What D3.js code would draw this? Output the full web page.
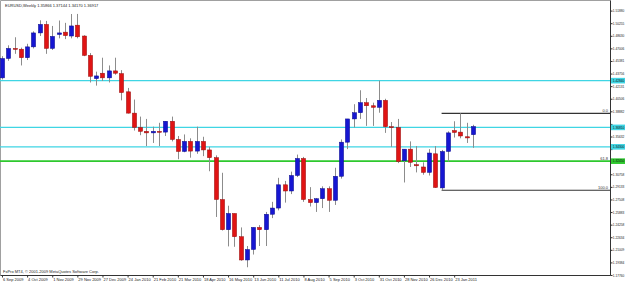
<!DOCTYPE html>
<html><head><meta charset="utf-8">
<script src="https://cdn.jsdelivr.net/npm/d3@7"></script>
<style>html,body{margin:0;padding:0;background:#fff;overflow:hidden}svg{display:block}</style>
</head><body><svg id="c" width="625" height="282"></svg>
<script>
const weeks = [
"2009-09-06","2009-09-13","2009-09-20","2009-09-27","2009-10-04","2009-10-11","2009-10-18","2009-10-25","2009-11-01","2009-11-08","2009-11-15","2009-11-22","2009-11-29","2009-12-06","2009-12-13","2009-12-20","2009-12-27",
"2010-01-03","2010-01-10","2010-01-17","2010-01-24","2010-01-31","2010-02-07","2010-02-14","2010-02-21","2010-02-28","2010-03-07","2010-03-14","2010-03-21","2010-03-28","2010-04-04","2010-04-11","2010-04-18","2010-04-25","2010-05-02","2010-05-09","2010-05-16","2010-05-23","2010-05-30","2010-06-06","2010-06-13","2010-06-20","2010-06-27","2010-07-04","2010-07-11","2010-07-18","2010-07-25","2010-08-01","2010-08-08","2010-08-15","2010-08-22","2010-08-29","2010-09-05","2010-09-12","2010-09-19","2010-09-26","2010-10-03","2010-10-10","2010-10-17","2010-10-24","2010-10-31","2010-11-07","2010-11-14","2010-11-21","2010-11-28","2010-12-05","2010-12-12","2010-12-19","2010-12-26",
"2011-01-02","2011-01-09","2011-01-16","2011-01-23","2011-01-30","2011-02-06","2011-02-13"];

const open = [1.4320,1.4570,1.4700,1.4690,1.4580,1.4720,1.4900,1.5010,1.4700,1.4880,1.4910,1.4860,1.5000,1.4860,1.4610,1.4310,1.4380,
1.4320,1.4410,1.4375,1.4140,1.3865,1.3680,1.3630,1.3610,1.3630,1.3620,1.3760,1.3525,1.3370,1.3500,1.3375,1.3500,1.3390,1.3290,1.2750,1.2360,1.2570,1.2270,1.1970,1.2105,1.2390,1.2360,1.2560,1.2640,1.2940,1.2860,1.3060,1.3280,1.2750,1.2710,1.2760,1.2890,1.2740,1.3050,1.3490,1.3790,1.3870,1.4000,1.3960,1.3940,1.4030,1.3690,1.3680,1.3250,1.3400,1.3200,1.3170,1.3100,
1.3340,1.2900,1.3370,1.3640,1.3620,1.3560,1.35866];
const high = [1.4600,1.4740,1.4844,1.4710,1.4760,1.4920,1.5063,1.5055,1.4990,1.5060,1.5030,1.5144,1.5145,1.4870,1.4640,1.4400,1.4580,
1.4480,1.4580,1.4420,1.4190,1.4040,1.3820,1.3790,1.3690,1.3740,1.3760,1.3820,1.3570,1.3590,1.3540,1.3690,1.3560,1.3430,1.3320,1.3095,1.2670,1.2570,1.2390,1.2150,1.2390,1.2420,1.2590,1.2720,1.3030,1.2990,1.3110,1.3330,1.3300,1.2910,1.2770,1.2920,1.2920,1.3160,1.3525,1.3790,1.3980,1.4160,1.4060,1.4000,1.4283,1.4050,1.3750,1.3790,1.3400,1.3500,1.3440,1.3230,1.3400,
1.3440,1.3390,1.3630,1.3760,1.3862,1.3740,1.37144];
const low = [1.4300,1.4540,1.4630,1.4480,1.4550,1.4700,1.4860,1.4630,1.4680,1.4830,1.4820,1.4830,1.4830,1.4600,1.4260,1.4220,1.4280,
1.4260,1.4360,1.4030,1.3860,1.3640,1.3580,1.3440,1.3480,1.3440,1.3570,1.3500,1.3270,1.3360,1.3290,1.3340,1.3310,1.3115,1.2525,1.2350,1.2145,1.2140,1.1960,1.1876,1.2040,1.2150,1.2150,1.2510,1.2610,1.2710,1.2820,1.3040,1.2720,1.2660,1.2590,1.2640,1.2590,1.2680,1.3020,1.3400,1.3680,1.3790,1.3700,1.3700,1.3870,1.3610,1.3430,1.3220,1.2970,1.3170,1.3100,1.3070,1.3060,
1.2900,1.2870,1.3240,1.3550,1.3540,1.3480,1.34170];
const close = [1.4570,1.4700,1.4690,1.4580,1.4720,1.4900,1.5010,1.4700,1.4855,1.4900,1.4865,1.4990,1.4850,1.4610,1.4340,1.4345,1.4320,
1.4410,1.4380,1.4130,1.3865,1.3680,1.3630,1.3610,1.3630,1.3620,1.3760,1.3525,1.3370,1.3500,1.3375,1.3500,1.3390,1.3290,1.2750,1.2360,1.2570,1.2270,1.1970,1.2105,1.2390,1.2360,1.2560,1.2640,1.2940,1.2860,1.3060,1.3280,1.2750,1.2710,1.2760,1.2890,1.2740,1.3050,1.3490,1.3790,1.3870,1.4000,1.3960,1.3940,1.4030,1.3690,1.3680,1.3240,1.3400,1.3230,1.3185,1.3100,1.3350,
1.2905,1.3370,1.3610,1.3615,1.3570,1.3545,1.36917];

const xTickWeeks = ["2009-09-06","2009-10-04","2009-11-01","2009-11-29","2009-12-27","2010-01-24","2010-02-21","2010-03-21","2010-04-18","2010-05-16","2010-06-13","2010-07-11","2010-08-08","2010-09-05","2010-10-03","2010-10-31","2010-11-28","2010-12-26","2011-01-23"];
const xTickLabels = ["6 Sep 2009","4 Oct 2009","1 Nov 2009","29 Nov 2009","27 Dec 2009","24 Jan 2010","21 Feb 2010","21 Mar 2010","18 Apr 2010","16 May 2010","13 Jun 2010","11 Jul 2010","8 Aug 2010","5 Sep 2010","3 Oct 2010","31 Oct 2010","28 Nov 2010","26 Dec 2010","23 Jan 2011"];
const yTickValues = [1.51880,1.50255,1.48630,1.47006,1.45381,1.43756,1.42131,1.40506,1.38882,1.37257,1.35632,1.34007,1.32382,1.30758,1.29133,1.27508,1.25883,1.24258,1.22634,1.21009,1.19384,1.17760];

const cyanLevels = [1.42840, 1.36810, 1.34300];
const greenLevels = [1.32450];
const fibWeek = "2011-01-09";
const fibHigh = 1.3862, fibLow = 1.2870;
const fibLevels = [0, 61.8, 100];
const fibLabels = ["0.0", "61.8", "100.0"];
const headerText = "EURUSD,Weekly  1.35866 1.37144 1.34170 1.36917";
const footerText = "FxPro MT4, \u00A9 2001-2009 MetaQuotes Software Corp.";

const FONT = "'Liberation Sans', Arial, sans-serif";
const FS = 4;
const FSA = 3.2;
const plotL = 0.5, plotR = 610.5, plotT = 0.5, plotB = 275.5;

const svg = d3.select("#c");
svg.append("rect").attr("width",625).attr("height",282).attr("fill","#fff");

const x = d3.scalePoint().domain(weeks).range([2, 473]);
const y = d3.scaleLinear().domain([1.1776, 1.5299]).range([275, 2]);

svg.append("path").attr("d",`M${plotL},${plotB}V${plotT}H${plotR}`).attr("fill","none").attr("stroke","#a0a0a0").attr("stroke-width",1);

const hl = svg.append("g");
cyanLevels.forEach(v=>{
  hl.append("line").attr("x1",0).attr("x2",plotR).attr("y1",y(v)).attr("y2",y(v)).attr("stroke","#3fd5e4").attr("stroke-width",1.4);
});
greenLevels.forEach(v=>{
  hl.append("line").attr("x1",0).attr("x2",plotR).attr("y1",y(v)).attr("y2",y(v)).attr("stroke","#2ec82e").attr("stroke-width",1.8);
});
fibLevels.forEach((lv,i)=>{
  const p = fibHigh - (fibHigh-fibLow)*lv/100;
  if (lv !== 61.8) {
    hl.append("line").attr("x1",x(fibWeek)).attr("x2",plotR).attr("y1",y(p)).attr("y2",y(p)).attr("stroke","#333").attr("stroke-width",1.2);
  }
  hl.append("text").attr("x",608).attr("y",y(p)-1.2).attr("text-anchor","end")
    .attr("font-family",FONT).attr("font-size",FS).attr("fill","#333").text(fibLabels[i]);
});

const idx = d3.range(weeks.length);
const g = svg.append("g");
g.selectAll("line.w").data(idx).join("line").attr("class","w")
  .attr("x1",i=>Math.round(x(weeks[i]))+0.5).attr("x2",i=>Math.round(x(weeks[i]))+0.5)
  .attr("y1",i=>y(high[i])).attr("y2",i=>y(low[i]))
  .attr("stroke","#8c8c8c").attr("stroke-width",1);
g.selectAll("rect.b").data(idx).join("rect").attr("class","b")
  .attr("x",i=>Math.round(x(weeks[i]))+0.5-2.1).attr("width",4.2)
  .attr("y",i=>Math.min(y(open[i]),y(close[i])))
  .attr("height",i=>Math.max(1,Math.abs(y(open[i])-y(close[i]))))
  .attr("fill",i=>close[i]>=open[i]?"#1616d2":"#e01414")
  .attr("stroke",i=>close[i]>=open[i]?"#0c0c8a":"#961010").attr("stroke-width",0.5);

const levelVals = [...cyanLevels, ...greenLevels];
const ya = svg.append("g").attr("transform",`translate(${plotR},0)`)
  .call(d3.axisRight(y).tickValues(yTickValues).tickSize(2).tickSizeOuter(0).tickFormat(d3.format(".5f")));
ya.select(".domain").attr("stroke","#333").attr("d",`M0,${plotT}V${plotB}`);
ya.selectAll(".tick line").attr("stroke","#333");
ya.selectAll(".tick text").attr("x",2.3).attr("font-family",FONT).attr("font-size",FSA).attr("fill","#222")
  .attr("display",d=>levelVals.some(v=>Math.abs(y(v)-y(d))<4.5)?"none":null);

[...cyanLevels.map(v=>[v,"#3fd5e4"]), ...greenLevels.map(v=>[v,"#2ec82e"])].forEach(([v,c])=>{
  svg.append("rect").attr("x",plotR+0.5).attr("y",y(v)-2.8).attr("width",625-plotR).attr("height",5.6).attr("fill",c);
  svg.append("text").attr("x",plotR+2.3).attr("y",y(v)).attr("dy","0.35em").attr("font-family",FONT).attr("font-size",FSA).attr("fill","#111").text(d3.format(".5f")(v));
});

const xa = svg.append("g").attr("transform",`translate(0,${plotB})`)
  .call(d3.axisBottom(x).tickValues(xTickWeeks).tickSize(2).tickSizeOuter(0).tickFormat((d,i)=>xTickLabels[i]));
xa.select(".domain").attr("stroke","#333").attr("d",`M${plotL},0H${plotR}`);
xa.selectAll(".tick line").attr("stroke","#333");
xa.selectAll(".tick text").attr("text-anchor","start").attr("x",0.5).attr("y",2).attr("dy","0.75em")
  .attr("font-family",FONT).attr("font-size",FS).attr("fill","#222");

svg.append("text").attr("x",5).attr("y",6.5).attr("font-family",FONT).attr("font-size",FS).attr("fill","#222").text(headerText);
svg.append("text").attr("x",3).attr("y",272.5).attr("font-family",FONT).attr("font-size",FS).attr("fill","#222").text(footerText);
</script></body></html>
